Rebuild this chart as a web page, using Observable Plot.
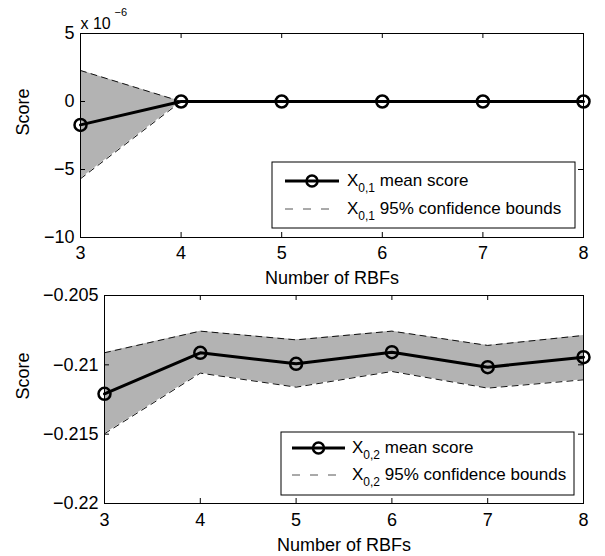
<!DOCTYPE html>
<html><head><meta charset="utf-8">
<script src="https://cdn.jsdelivr.net/npm/d3@7"></script>
<script src="https://cdn.jsdelivr.net/npm/@observablehq/plot@0.6"></script>
<style>
html,body{margin:0;padding:0;background:#fff;}
#chart{position:relative;width:605px;height:556px;font-family:"Liberation Sans",Arial,Helvetica,sans-serif;}
#chart svg{display:block;}
</style></head><body><div id="chart"></div>
<script>
const rbfs = [3, 4, 5, 6, 7, 8];
const x01Mean  = [-1.72e-6, 0, 0, 0, 0, 0];
const x01Upper = [2.28e-6, 0, 0, 0, 0, 0];
const x01Lower = [-5.68e-6, 0, 0, 0, 0, 0];
const x02Mean  = [-0.21209, -0.20913, -0.20993, -0.20909, -0.21017, -0.20945];
const x02Upper = [-0.20913, -0.20757, -0.20820, -0.20757, -0.20860, -0.20788];
const x02Lower = [-0.21497, -0.21060, -0.21161, -0.21048, -0.21168, -0.21108];
const xTicks = [3, 4, 5, 6, 7, 8];
const yTicksTop = [-10e-6, -5e-6, 0, 5e-6];
const yTicksBottom = [-0.22, -0.215, -0.21, -0.205];
const xLabel = "Number of RBFs";
const yLabel = "Score";
const legendSubs = ["0,1", "0,2"];

const FONT = "Liberation Sans, Arial, Helvetica, sans-serif";
const W = 605;

function minus(s) { return s.replace("-", "\u2212"); }

function panel(o) {
  const data = rbfs.map((x, i) => ({x, mean: o.mean[i], hi: o.upper[i], lo: o.lower[i]}));
  const pw = W - o.ml - o.mr, ph = o.h - o.mt - o.mb;
  const svg = Plot.plot({
    width: W, height: o.h,
    marginLeft: o.ml, marginRight: o.mr, marginTop: o.mt, marginBottom: o.mb,
    style: {fontFamily: FONT, fontSize: "18px", color: "black", background: "white", overflow: "visible"},
    x: {domain: [3, 8]},
    y: {domain: o.yDomain},
    marks: [
      Plot.areaY(data, {x: "x", y1: "lo", y2: "hi", fill: "#b3b3b3"}),
      Plot.line(data, {x: "x", y: "hi", stroke: "#111", strokeWidth: 1, strokeDasharray: "6,5"}),
      Plot.line(data, {x: "x", y: "lo", stroke: "#111", strokeWidth: 1, strokeDasharray: "6,5"}),
      Plot.frame({stroke: "black", strokeWidth: 1}),
      Plot.ruleX(xTicks, {x: d => d, insetTop: ph - 5, stroke: "black"}),
      Plot.ruleX(xTicks, {x: d => d, insetBottom: ph - 5, stroke: "black"}),
      Plot.ruleY(o.yTicks, {y: d => d, insetRight: pw - 5, stroke: "black"}),
      Plot.ruleY(o.yTicks, {y: d => d, insetLeft: pw - 5, stroke: "black"}),
      Plot.line(data, {x: "x", y: "mean", stroke: "black", strokeWidth: 3}),
      Plot.dot(data, {x: "x", y: "mean", r: 6, stroke: "black", strokeWidth: 2.5, fill: "none"}),
      Plot.axisX({ticks: xTicks, tickSize: 0, tickPadding: o.xPad, fontSize: 18, label: null, tickFormat: d => String(d)}),
      Plot.axisY({ticks: o.yTicks, tickSize: 0, tickPadding: 6, fontSize: 18, label: null, tickFormat: o.yFormat}),
      Plot.text([xLabel], {frameAnchor: "bottom", dy: o.xLabelDy, lineAnchor: "top", fontSize: 18, fill: "black"}),
      Plot.text([yLabel], {frameAnchor: "left", dx: o.yLabelDx, rotate: -90, fontSize: 18, fill: "black"}),
      ...(o.extra || [])
    ]
  });
  const L = o.legend;
  const g = d3.select(svg).append("g").attr("font-family", FONT).attr("font-size", 17).attr("text-anchor", "start");
  g.append("rect").attr("x", L.x).attr("y", L.y).attr("width", L.w).attr("height", L.h)
    .attr("fill", "white").attr("stroke", "black").attr("stroke-width", 1);
  g.append("line").attr("x1", L.lx1).attr("x2", L.lx2).attr("y1", L.r1).attr("y2", L.r1)
    .attr("stroke", "black").attr("stroke-width", 3);
  g.append("circle").attr("cx", (L.lx1 + L.lx2) / 2).attr("cy", L.r1).attr("r", 5.5)
    .attr("fill", "none").attr("stroke", "black").attr("stroke-width", 2.5);
  g.append("line").attr("x1", L.lx1).attr("x2", L.lx2).attr("y1", L.r2).attr("y2", L.r2)
    .attr("stroke", "#555").attr("stroke-width", 1).attr("stroke-dasharray", "8,10");
  [[L.r1, " mean score"], [L.r2, " 95% confidence bounds"]].forEach(([ry, label]) => {
    const t = g.append("text").attr("x", L.tx).attr("y", ry + 5).attr("fill", "black").attr("text-anchor", "start");
    t.append("tspan").text("X");
    t.append("tspan").attr("font-size", 12).attr("dy", 6).text(L.sub);
    t.append("tspan").attr("dy", -6).text(label);
  });
  return svg;
}

const topPanel = panel({
  mean: x01Mean, upper: x01Upper, lower: x01Lower,
  yDomain: [-10e-6, 5e-6], yTicks: yTicksTop,
  yFormat: d => minus(String(Math.round(d / 1e-6))),
  h: 280, ml: 80, mr: 22, mt: 33, mb: 43, xPad: 9, xLabelDy: 34, yLabelDx: -57,
  extra: [
    Plot.text(["x 10"], {frameAnchor: "top-left", dy: -16, textAnchor: "start", fontSize: 16, fill: "black"}),
    Plot.text(["\u22126"], {frameAnchor: "top-left", dx: 34, dy: -25, textAnchor: "start", fontSize: 11, fill: "black"})
  ],
  legend: {x: 272, y: 162, w: 303, h: 66, r1: 181, r2: 209, lx1: 285, lx2: 339, tx: 347, sub: legendSubs[0]}
});
const bottomPanel = panel({
  mean: x02Mean, upper: x02Upper, lower: x02Lower,
  yDomain: [-0.22, -0.205], yTicks: yTicksBottom,
  yFormat: d => minus(String(+d.toFixed(3))),
  h: 276, ml: 104, mr: 22, mt: 15, mb: 53, xPad: 10, xLabelDy: 35, yLabelDx: -81,
  legend: {x: 281, y: 152, w: 293, h: 63, r1: 168, r2: 195, lx1: 292, lx2: 345, tx: 352, sub: legendSubs[1]}
});
document.getElementById("chart").append(topPanel, bottomPanel);
</script></body></html>
